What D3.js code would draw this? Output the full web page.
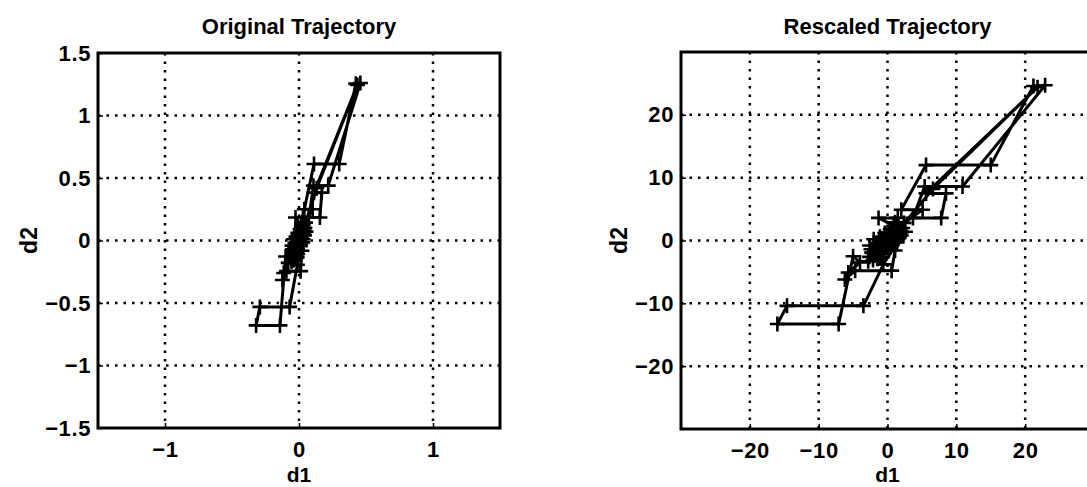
<!DOCTYPE html>
<html>
<head>
<meta charset="utf-8">
<script src="https://cdn.jsdelivr.net/npm/d3@7"></script>
<style>
  html, body { margin: 0; padding: 0; background: #fff; }
  svg text { font-family: "Liberation Sans", Arial, Helvetica, sans-serif; font-weight: bold; fill: #000; }
</style>
</head>
<body>
<div id="chart"></div>
<script>
// original trajectory (left panel)
const origD1 = [0.008, -0.018, 0.014, 0.040, -0.012, -0.044, -0.006, 0.024, -0.026, 0.030,
    0.004, -0.032, 0.018, 0.048, 0.102, 0.040, 0.112, 0.300, 0.424, 0.458,
    0.218, 0.108, 0.074, 0.156, 0.170, 0.112, 0.436, 0.132, 0.036, -0.008,
    -0.052, -0.014, -0.024, 0.012, 0.028, -0.012, -0.070, -0.292, -0.320, -0.142,
    -0.100, -0.080, -0.114, -0.124, -0.094, 0.012, 0.022, 0.052, 0.018, -0.038,
    -0.016, 0.034, 0.010, -0.028, -0.040, -0.036, 0.006, -0.018, 0.032, -0.004,
    -0.048, 0.016, -0.022, 0.038, -0.010, 0.008, -0.030, 0.022, -0.042, 0.002,
    -0.014, 0.044, -0.020, 0.014, -0.034, 0.004, 0.026, -0.006, -0.056, -0.018,
    0.028, -0.046, 0.012, -0.008, 0.040, -0.024, 0.018, -0.052, 0.030, -0.016,
    0.010, 0.000];
const origD2 = [0.031, -0.036, 0.066, 0.066, -0.071, -0.102, 0.046, 0.112, 0.184, 0.184,
    -0.026, -0.061, 0.020, 0.143, 0.250, 0.250, 0.612, 0.612, 1.255, 1.260,
    0.439, 0.439, 0.184, 0.184, 0.383, 0.383, 1.245, 0.418, 0.097, -0.010,
    -0.133, -0.133, -0.046, 0.041, -0.015, -0.194, -0.531, -0.531, -0.679, -0.679,
    -0.128, -0.179, -0.260, -0.316, -0.245, -0.245, -0.082, 0.071, 0.117, -0.082,
    0.015, 0.046, -0.046, -0.148, 0.010, -0.122, 0.056, -0.092, 0.128, -0.041,
    -0.071, 0.010, 0.031, 0.077, -0.107, 0.092, -0.020, 0.148, -0.158, 0.026,
    -0.077, 0.102, -0.015, 0.082, -0.112, -0.010, 0.056, 0.020, -0.168, -0.138,
    0.133, -0.097, -0.031, 0.061, 0.041, -0.133, 0.097, -0.041, 0.010, -0.061,
    0.015, 0.000];

// rescaled trajectory (right panel)
const rescD1 = [0.4, -0.9, 0.7, 2.0, -0.6, -2.2, -0.3, 1.2, -1.3, 1.5,
    0.2, -1.6, 0.9, 2.4, 5.1, 2.0, 5.6, 15.0, 21.2, 22.9,
    10.9, 5.4, 3.7, 7.8, 8.5, 5.6, 21.8, 6.6, 1.8, -0.4,
    -2.6, -0.7, -1.2, 0.6, 1.4, -0.6, -3.5, -14.6, -16.0, -7.1,
    -5.0, -4.0, -5.7, -6.2, -4.7, 0.6, 1.1, 2.6, 0.9, -1.9,
    -0.8, 1.7, 0.5, -1.4, -2.0, -1.8, 0.3, -0.9, 1.6, -0.2,
    -2.4, 0.8, -1.1, 1.9, -0.5, 0.4, -1.5, 1.1, -2.1, 0.1,
    -0.7, 2.2, -1.0, 0.7, -1.7, 0.2, 1.3, -0.3, -2.8, -0.9,
    1.4, -2.3, 0.6, -0.4, 2.0, -1.2, 0.9, -2.6, 1.5, -0.8,
    0.5, 0.0];
const rescD2 = [0.6, -0.7, 1.3, 1.3, -1.4, -2.0, 0.9, 2.2, 3.6, 3.6,
    -0.5, -1.2, 0.4, 2.8, 4.9, 4.9, 12.0, 12.0, 24.6, 24.7,
    8.6, 8.6, 3.6, 3.6, 7.5, 7.5, 24.4, 8.2, 1.9, -0.2,
    -2.6, -2.6, -0.9, 0.8, -0.3, -3.8, -10.4, -10.4, -13.3, -13.3,
    -2.5, -3.5, -5.1, -6.2, -4.8, -4.8, -1.6, 1.4, 2.3, -1.6,
    0.3, 0.9, -0.9, -2.9, 0.2, -2.4, 1.1, -1.8, 2.5, -0.8,
    -1.4, 0.2, 0.6, 1.5, -2.1, 1.8, -0.4, 2.9, -3.1, 0.5,
    -1.5, 2.0, -0.3, 1.6, -2.2, -0.2, 1.1, 0.4, -3.3, -2.7,
    2.6, -1.9, -0.6, 1.2, 0.8, -2.6, 1.9, -0.8, 0.2, -1.2,
    0.3, 0.0];

const origTicksX = [-1, 0, 1];
const origTicksY = [-1.5, -1, -0.5, 0, 0.5, 1, 1.5];
const rescTicksX = [-20, -10, 0, 10, 20];
const rescTicksY = [-20, -10, 0, 10, 20];

const width = 1087, height = 487;

const svg = d3.select('#chart').append('svg')
    .attr('width', width)
    .attr('height', height);

function drawPanel(cfg) {
    const x = d3.scaleLinear().domain(cfg.xDomain).range([cfg.left, cfg.right]);
    const y = d3.scaleLinear().domain(cfg.yDomain).range([cfg.bottom, cfg.top]);
    const fmt = d => d3.format('')(d).replace('-', '\u2212');

    const g = svg.append('g');

    // dotted grid
    g.append('g').selectAll('line')
        .data(cfg.ticksX.filter(t => t > cfg.xDomain[0] && t < cfg.xDomain[1]))
        .join('line')
        .attr('x1', d => x(d)).attr('x2', d => x(d))
        .attr('y1', cfg.top).attr('y2', cfg.bottom)
        .attr('stroke', '#000').attr('stroke-width', 2.5)
        .attr('stroke-dasharray', '2.5,6');
    g.append('g').selectAll('line')
        .data(cfg.ticksY.filter(t => t > cfg.yDomain[0] && t < cfg.yDomain[1]))
        .join('line')
        .attr('y1', d => y(d)).attr('y2', d => y(d))
        .attr('x1', cfg.left).attr('x2', cfg.right)
        .attr('stroke', '#000').attr('stroke-width', 2.5)
        .attr('stroke-dasharray', '2.5,6');

    // axes, ticks pointing inward like matlab
    const xAxis = g.append('g')
        .attr('transform', `translate(0,${cfg.bottom})`)
        .call(d3.axisBottom(x).tickValues(cfg.ticksX).tickSize(-5).tickPadding(13).tickFormat(fmt));
    const yAxis = g.append('g')
        .attr('transform', `translate(${cfg.left},0)`)
        .call(d3.axisLeft(y).tickValues(cfg.ticksY).tickSize(-5).tickPadding(7).tickFormat(fmt));
    [xAxis, yAxis].forEach(a => {
        a.select('.domain').remove();
        a.selectAll('.tick line').attr('stroke', '#000').attr('stroke-width', 1.5);
        a.selectAll('.tick text').attr('font-size', 22).attr('letter-spacing', 0.6).attr('fill', '#000');
    });

    // trajectory
    const pts = cfg.d1.map((v, i) => [v, cfg.d2[i]]);
    const plot = g.append('g');
    plot.append('path')
        .datum(pts)
        .attr('fill', 'none')
        .attr('stroke', '#000')
        .attr('stroke-width', 3)
        .attr('stroke-linejoin', 'round')
        .attr('d', d3.line().x(d => x(d[0])).y(d => y(d[1])));

    // '+' markers
    const m = 7.5;
    plot.selectAll('path.mark')
        .data(pts)
        .join('path')
        .attr('class', 'mark')
        .attr('stroke', '#000')
        .attr('stroke-width', 2.6)
        .attr('d', d => {
            const px = x(d[0]), py = y(d[1]);
            return `M${px - m},${py}H${px + m}M${px},${py - m}V${py + m}`;
        });

    // box
    g.append('rect')
        .attr('x', cfg.left).attr('y', cfg.top)
        .attr('width', cfg.right - cfg.left).attr('height', cfg.bottom - cfg.top)
        .attr('fill', 'none').attr('stroke', '#000').attr('stroke-width', 3);

    // title and labels
    g.append('text')
        .attr('x', (cfg.left + cfg.right) / 2).attr('y', 34)
        .attr('text-anchor', 'middle').attr('font-size', 22)
        .text(cfg.title);
    g.append('text')
        .attr('x', (cfg.left + cfg.right) / 2).attr('y', 482)
        .attr('text-anchor', 'middle').attr('font-size', 21)
        .text('d1');
    g.append('text')
        .attr('transform', `translate(${cfg.yLabelX},${(cfg.top + cfg.bottom) / 2}) rotate(-90)`)
        .attr('text-anchor', 'middle').attr('font-size', 23)
        .text('d2');
}

drawPanel({
    title: 'Original Trajectory',
    left: 98, right: 500, top: 53, bottom: 428,
    xDomain: [-1.5, 1.5], yDomain: [-1.5, 1.5],
    ticksX: origTicksX, ticksY: origTicksY,
    d1: origD1, d2: origD2,
    yLabelX: 37
});

drawPanel({
    title: 'Rescaled Trajectory',
    left: 681, right: 1094, top: 52, bottom: 429,
    xDomain: [-30, 30], yDomain: [-30, 30],
    ticksX: rescTicksX, ticksY: rescTicksY,
    d1: rescD1, d2: rescD2,
    yLabelX: 627
});
</script>
</body>
</html>
